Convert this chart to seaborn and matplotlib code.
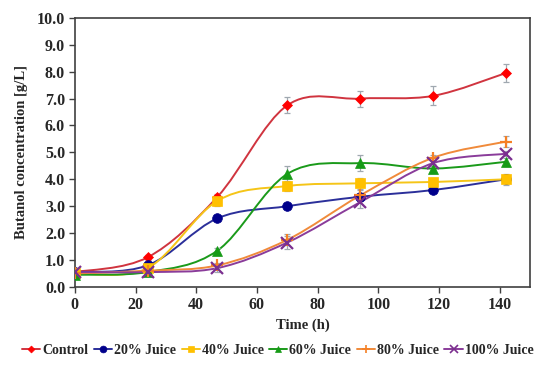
import numpy as np
import pandas as pd
import seaborn as sns
import matplotlib
matplotlib.use('Agg')
import matplotlib.pyplot as plt
from matplotlib.path import Path
from matplotlib.patches import PathPatch
from matplotlib.lines import Line2D

# Data
time_h = [0, 24, 47, 70, 94, 118, 142]
series_names = ['Control', '20% Juice', '40% Juice', '60% Juice', '80% Juice', '100% Juice']
control = [0.55, 1.1, 3.35, 6.75, 7.0, 7.1, 7.95]
juice20 = [0.55, 0.8, 2.55, 3.0, 3.35, 3.6, 4.0]
juice40 = [0.5, 0.7, 3.2, 3.75, 3.85, 3.9, 4.0]
juice60 = [0.45, 0.55, 1.35, 4.2, 4.6, 4.4, 4.65]
juice80 = [0.5, 0.6, 0.8, 1.75, 3.4, 4.8, 5.4]
juice100 = [0.55, 0.55, 0.7, 1.65, 3.15, 4.6, 4.95]
err_control = [0.05, 0.1, 0.12, 0.3, 0.3, 0.35, 0.32]
err20 = [0.05, 0.08, 0.08, 0.1, 0.1, 0.08, 0.15]
err40 = [0.05, 0.08, 0.2, 0.2, 0.2, 0.15, 0.2]
err60 = [0.05, 0.05, 0.08, 0.3, 0.3, 0.15, 0.15]
err80 = [0.05, 0.05, 0.1, 0.2, 0.2, 0.1, 0.2]
err100 = [0.05, 0.05, 0.15, 0.25, 0.2, 0.1, 0.1]

values = [control, juice20, juice40, juice60, juice80, juice100]
errors = [err_control, err20, err40, err60, err80, err100]

line_colors = ['#D0343F', '#2B2F9A', '#F5C518', '#1A9A1A', '#F08A3A', '#8A3C9A']
mark_colors = ['#FF0000', '#00008B', '#FFC000', '#169B16', '#F58025', '#7B2F8F']
markers = ['D', 'o', 's', '^', '+', 'x']
msizes = [5, 7, 6.5, 7, 9, 9]

rows = []
for name, vals in zip(series_names, values):
    for t, v in zip(time_h, vals):
        rows.append({'Time': t, 'Conc': v, 'Series': name})
df = pd.DataFrame(rows)

sns.set_style('white')
plt.rcParams['font.family'] = ['Liberation Serif', 'DejaVu Serif']
plt.rcParams['font.weight'] = 'bold'

fig = plt.figure(figsize=(5.5, 3.65), dpi=100)
ax = fig.add_axes([0.136, 0.214, 0.828, 0.737])


def smooth_path(x, y):
    # Excel-like smoothed line as cubic Bezier segments
    pts = np.column_stack([x, y]).astype(float)
    n = len(pts)
    verts = [pts[0]]
    codes = [Path.MOVETO]
    for i in range(n - 1):
        p0 = pts[max(i - 1, 0)]
        p1 = pts[i]
        p2 = pts[i + 1]
        p3 = pts[min(i + 2, n - 1)]
        c1 = p1 + (p2 - p0) / 6.0
        c2 = p2 - (p3 - p1) / 6.0
        verts += [c1, c2, p2]
        codes += [Path.CURVE4] * 3
    return Path(verts, codes)


for i, name in enumerate(series_names):
    sub = df[df['Series'] == name]
    ax.add_patch(PathPatch(smooth_path(sub['Time'], sub['Conc']), fill=False,
                           edgecolor=line_colors[i], lw=1.4, zorder=2))
    ax.errorbar(sub['Time'], sub['Conc'], yerr=errors[i], fmt='none',
                ecolor='#A0A8B0', elinewidth=0.9, capsize=2, capthick=0.9, zorder=3)

for i, name in enumerate(series_names):
    sub = df[df['Series'] == name]
    sns.lineplot(data=sub, x='Time', y='Conc', ax=ax, linestyle='', marker=markers[i],
                 markersize=msizes[i], color=mark_colors[i], markeredgecolor=mark_colors[i],
                 markeredgewidth=1.6 if markers[i] in '+x' else 0.5, zorder=4, legend=False)

ax.set_xlim(0, 150)
ax.set_ylim(0, 10)
ax.set_xticks(range(0, 141, 20))
ax.set_yticks(np.arange(0, 10.1, 1.0))
ax.set_yticklabels([f'{v:.1f}' for v in np.arange(0, 10.1, 1.0)])
ax.tick_params(axis='both', direction='out', length=4, width=1, color='#404040',
               labelsize=11.5, bottom=True, left=True, pad=3)
for s in ax.spines.values():
    s.set_color('#404040')
    s.set_linewidth(1.2)
ax.set_xlabel('Time (h)', fontsize=10.5, fontweight='bold', labelpad=4)
ax.set_ylabel('Butanol concentration [g/L]', fontsize=10.5, fontweight='bold', labelpad=6)

handles = [Line2D([0], [0], color=line_colors[i], lw=1.4, marker=markers[i],
                  markersize=msizes[i] * 0.7, markerfacecolor=mark_colors[i],
                  markeredgecolor=mark_colors[i],
                  markeredgewidth=1.2 if markers[i] in '+x' else 0.5)
           for i in range(len(series_names))]
fig.legend(handles, series_names, loc='center', bbox_to_anchor=(0.505, 0.04), ncol=6,
           frameon=False, fontsize=10, handlelength=1.3, handletextpad=0.15,
           columnspacing=0.4, borderaxespad=0)

fig.savefig('out.png', dpi=100)
